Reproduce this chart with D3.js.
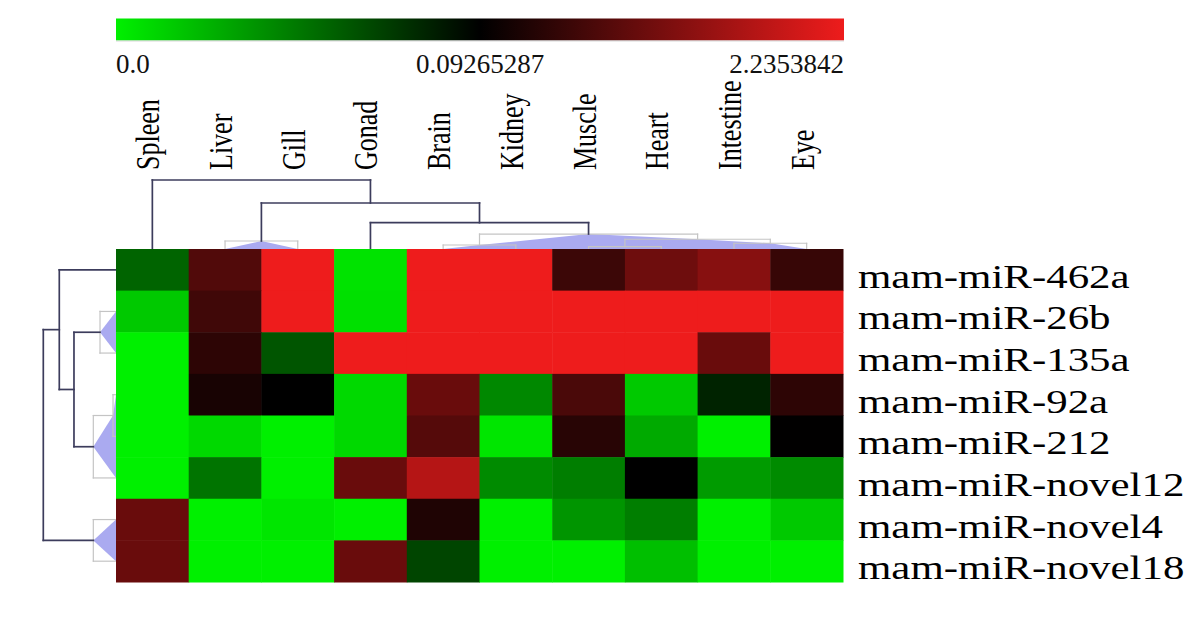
<!DOCTYPE html>
<html><head><meta charset="utf-8">
<script src="https://cdn.jsdelivr.net/npm/d3@7"></script>
<style>body{margin:0;background:#fff}svg{display:block}</style>
</head><body><svg id="c" width="1200" height="619"></svg>
<script>
// ---------- data ----------
const tissues = ["Spleen","Liver","Gill","Gonad","Brain","Kidney","Muscle","Heart","Intestine","Eye"];
const mirnas = ["mam-miR-462a","mam-miR-26b","mam-miR-135a","mam-miR-92a","mam-miR-212","mam-miR-novel12","mam-miR-novel4","mam-miR-novel18"];
const values = [
  [0.054, 0.82, 2.235, 0.005, 2.235, 2.235, 0.63, 1.08, 1.31, 0.59],
  [0.015, 0.67, 2.235, 0.006, 2.235, 2.235, 2.235, 2.235, 2.235, 2.235],
  [0.0, 0.50, 0.06, 2.235, 2.235, 2.235, 2.235, 2.235, 1.04, 2.235],
  [0.0, 0.31, 0.0926, 0.009, 1.04, 0.04, 0.76, 0.015, 0.079, 0.50],
  [0.0, 0.009, 0.0, 0.009, 0.86, 0.004, 0.45, 0.027, 0.0, 0.10],
  [0.0, 0.048, 0.0, 1.04, 1.72, 0.039, 0.044, 0.0926, 0.033, 0.039],
  [1.04, 0.0, 0.004, 0.0, 0.37, 0.0, 0.035, 0.044, 0.0, 0.015],
  [1.04, 0.0, 0.0, 1.04, 0.066, 0.0, 0.0, 0.019, 0.0, 0.0]
];
const legendValues = [0.0, 0.09265287, 2.2353842];
const legendLabels = ["0.0", "0.09265287", "2.2353842"];
// dendrograms: merge heights relative to the root
const colTree = {h:1, children:[
  {leaf:"Spleen"},
  {h:0.667, children:[
    {h:0.116, children:[{leaf:"Liver"},{leaf:"Gill"}]},
    {h:0.381, children:[
      {leaf:"Gonad"},
      {h:0.217, children:[
        {h:0.058, children:[{leaf:"Brain"},{leaf:"Kidney"}]},
        {h:0.141, children:[
          {h:0.033, children:[{leaf:"Muscle"},{leaf:"Heart"}]},
          {h:0.083, children:[{leaf:"Intestine"},{leaf:"Eye"}]}
        ]}
      ]}
    ]}
  ]}
]};
const rowTree = {h:1, children:[
  {h:0.78, children:[
    {leaf:"mam-miR-462a"},
    {h:0.578, children:[
      {h:0.22, children:[{leaf:"mam-miR-26b"},{leaf:"mam-miR-135a"}]},
      {h:0.312, children:[
        {h:0.041, children:[{leaf:"mam-miR-92a"},{leaf:"mam-miR-212"}]},
        {leaf:"mam-miR-novel12"}
      ]}
    ]}
  ]},
  {h:0.312, children:[{leaf:"mam-miR-novel4"},{leaf:"mam-miR-novel18"}]}
]};
const collapseCut = 0.35;

// ---------- layout ----------
const svg = d3.select("#c");
const hmLeft = 116, hmRight = 843, hmTop = 249, hmBottom = 582;
const x = d3.scaleBand().domain(tissues).range([hmLeft, hmRight]);
const y = d3.scaleBand().domain(mirnas).range([hmTop, hmBottom]);
const color = d3.scaleLinear().domain(legendValues)
  .range(["#00f000", "#000000", "#ee1c1c"]).clamp(true);

const DARK = "#3c3c5c", GREY = "#c4c4c4", LAV = "#aaaaf0";

function drawDendro(tree, band, hScale, orient) {
  const root = d3.hierarchy(tree);
  root.eachAfter(n => {
    if (!n.children) { n.pos = band(n.data.leaf) + band.bandwidth() / 2; n.hh = 0; }
    else { n.pos = d3.mean(n.children, c => c.pos); n.hh = n.data.h; }
  });
  const pt = (p, h) => orient === "col" ? [p, hScale(h)] : [hScale(h), p];
  const g = svg.append("g");
  const internal = root.descendants().filter(n => n.children);
  const isCol = n => n.data.h < collapseCut || (n.parent && isColl(n.parent));
  function isColl(n) { return n.data.h !== undefined && n.data.h < collapseCut; }
  // lavender fills
  internal.filter(n => isColl(n)).forEach(n => {
    const [c1, c2] = n.children;
    const poly = [pt(c1.pos, 0), pt(c1.pos, c1.hh), pt(n.pos, n.hh), pt(c2.pos, c2.hh), pt(c2.pos, 0)];
    g.append("polygon").attr("points", poly.map(p => p.join(",")).join(" "))
      .attr("fill", LAV).attr("stroke", "none");
  });
  // links
  const drawLinks = (nodes, col, w) => nodes.forEach(n => {
    const [c1, c2] = n.children;
    const segs = [[pt(c1.pos, n.hh), pt(c2.pos, n.hh)]];
    n.children.forEach(c => segs.push([pt(c.pos, n.hh), pt(c.pos, c.hh)]));
    segs.forEach(s => g.append("line")
      .attr("x1", s[0][0]).attr("y1", s[0][1]).attr("x2", s[1][0]).attr("y2", s[1][1])
      .attr("stroke", col).attr("stroke-width", w).attr("stroke-linecap", "square"));
  });
  drawLinks(internal.filter(n => isColl(n)), GREY, 1.2);
  drawLinks(internal.filter(n => !isColl(n)), DARK, 1.7);
}

drawDendro(colTree, x, d3.scaleLinear().domain([0, 1]).range([hmTop, 180]), "col");
drawDendro(rowTree, y, d3.scaleLinear().domain([0, 1]).range([hmLeft, 43.3]), "row");

// ---------- heatmap ----------
const cells = [];
values.forEach((row, i) => row.forEach((v, j) => cells.push({r: mirnas[i], c: tissues[j], v})));
svg.append("g").selectAll("rect").data(cells).join("rect")
  .attr("x", d => x(d.c)).attr("y", d => y(d.r))
  .attr("width", x.bandwidth() + 0.5).attr("height", y.bandwidth() + 0.5)
  .attr("fill", d => color(d.v));

// row labels
svg.append("g").selectAll("text").data(mirnas).join("text")
  .attr("transform", d => `translate(858,${y(d) + y.bandwidth() / 2 + 18}) scale(1.3,1)`)
  .attr("font-family", "'Liberation Serif','Times New Roman',serif")
  .attr("font-size", 33).attr("fill", "#000").text(d => d);

// column labels
svg.append("g").selectAll("text").data(tissues).join("text")
  .attr("transform", d => `translate(${x(d) + x.bandwidth() / 2 + 7},170) scale(1.3,1) rotate(-90)`)
  .attr("font-family", "'Liberation Serif','Times New Roman',serif")
  .attr("font-size", 26).attr("fill", "#000").text(d => d);

// ---------- colour bar ----------
const barX = d3.scaleLinear().domain([0, legendValues.length - 1]).range([116, 844]);
const grad = svg.append("defs").append("linearGradient").attr("id", "lg")
  .attr("x1", "0%").attr("x2", "100%").attr("y1", "0%").attr("y2", "0%");
legendValues.forEach((v, i) => grad.append("stop")
  .attr("offset", (i / (legendValues.length - 1) * 100) + "%").attr("stop-color", color(v)));
svg.append("rect").attr("x", barX(0)).attr("y", 18.5).attr("width", barX(2) - barX(0)).attr("height", 22)
  .attr("fill", "url(#lg)");
svg.append("line").attr("x1", barX(0)).attr("x2", barX(2)).attr("y1", 41).attr("y2", 41)
  .attr("stroke", "#d8d8d8").attr("stroke-width", 1);
const anchors = ["start", "middle", "end"];
svg.append("g").selectAll("text").data(legendLabels).join("text")
  .attr("x", (d, i) => barX(i)).attr("y", 73)
  .attr("text-anchor", (d, i) => anchors[i])
  .attr("font-family", "'Liberation Serif','Times New Roman',serif")
  .attr("font-size", 27).attr("fill", "#111").text(d => d);
</script></body></html>
